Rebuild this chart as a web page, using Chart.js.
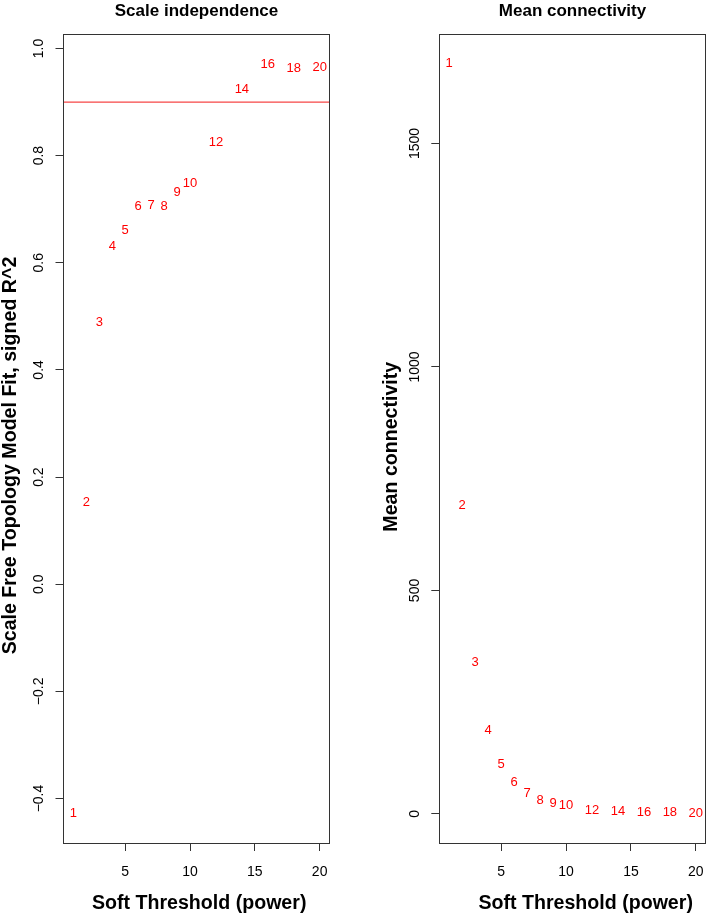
<!DOCTYPE html>
<html>
<head>
<meta charset="utf-8">
<title>Soft threshold</title>
<script src="https://cdn.jsdelivr.net/npm/chart.js"></script>
<style>
  html, body { margin: 0; padding: 0; background: #fff; }
  #wrap { position: relative; width: 708px; height: 915px; }
  canvas { position: absolute; top: 0; }
  #graficoFit { left: 0; }
  #graficoK { left: 354px; }
</style>
</head>
<body>
<div id="wrap">
  <canvas id="graficoFit" width="354" height="915"></canvas>
  <canvas id="graficoK" width="354" height="915"></canvas>
</div>
<script>
// datos
const powers = [1, 2, 3, 4, 5, 6, 7, 8, 9, 10, 12, 14, 16, 18, 20];
const fitR2 = [-0.427, 0.153, 0.488, 0.630, 0.661, 0.705, 0.707, 0.705, 0.731, 0.749, 0.824, 0.923, 0.971, 0.962, 0.965];
const meanK = [1679, 691, 338, 186, 111, 70, 46, 31, 24, 18, 9, 5, 4, 3, 2];
const cutR2 = 0.9;

const xTicks = [5, 10, 15, 20];
const fitTicks = [-0.4, -0.2, 0.0, 0.2, 0.4, 0.6, 0.8, 1.0];
const kTicks = [0, 500, 1000, 1500];

const FONT = '"Liberation Sans", Arial, Helvetica, sans-serif';
const X_MIN = 0.24, X_MAX = 20.76;

// caja, etiquetas de ticks y titulos al estilo de R
const rPlot = {
  id: "rPlot",
  afterDatasetsDraw(chart, args, opts) {
    const ctx = chart.ctx;
    const a = chart.chartArea;
    const al = v => Math.round(v - 0.5) + 0.5;
    ctx.save();

    ctx.strokeStyle = "#333";
    ctx.lineWidth = 1;
    ctx.strokeRect(al(a.left), al(a.top), al(a.right) - al(a.left), al(a.bottom) - al(a.top));

    // numeros de potencia en rojo
    const meta = chart.getDatasetMeta(0);
    ctx.fillStyle = "#ff0000";
    ctx.font = "13px " + FONT;
    ctx.textAlign = "center";
    ctx.textBaseline = "middle";
    meta.data.forEach((pt, i) => {
      ctx.fillText(String(powers[i]), pt.x, pt.y);
    });

    ctx.fillStyle = "#000";
    ctx.font = "14px " + FONT;
    ctx.textBaseline = "alphabetic";

    // ticks del eje x
    const xs = chart.scales.x;
    xs.ticks.forEach(t => {
      ctx.fillText(String(t.value), xs.getPixelForValue(t.value), a.bottom + 32.7);
    });

    // ticks del eje y, girados
    const ys = chart.scales.y;
    ys.ticks.forEach(t => {
      let txt = opts.decimals ? t.value.toFixed(opts.decimals) : String(t.value);
      txt = txt.replace("-", "\u2212");
      ctx.save();
      ctx.translate(a.left - 20.5, ys.getPixelForValue(t.value));
      ctx.rotate(-Math.PI / 2);
      ctx.fillText(txt, 0, 0);
      ctx.restore();
    });

    // titulos
    ctx.font = "bold 17px " + FONT;
    ctx.fillText(opts.title, (a.left + a.right) / 2, 15.7);

    ctx.font = "bold 19.6px " + FONT;
    ctx.fillText(opts.xTitle, opts.xTitleX, 909.3);

    ctx.save();
    ctx.translate(opts.yTitleBase, opts.yTitleY);
    ctx.rotate(-Math.PI / 2);
    ctx.fillText(opts.yTitle, 0, 0);
    ctx.restore();

    ctx.restore();
  }
};

function makeChart(id, values, yMin, yMax, yTicks, extra, setup) {
  const datasets = [{
    data: powers.map((p, i) => ({ x: p, y: values[i] })),
    pointRadius: 0,
    pointHoverRadius: 0
  }];
  if (extra) datasets.push(extra);

  const config = {
    type: "scatter",
    data: { datasets: datasets },
    options: {
      responsive: false,
      animation: false,
      events: [],
      layout: { padding: setup.padding },
      plugins: {
        legend: { display: false },
        tooltip: { enabled: false },
        rPlot: setup.plot
      },
      scales: {
        x: {
          type: "linear",
          min: X_MIN,
          max: X_MAX,
          afterBuildTicks: s => { s.ticks = xTicks.map(v => ({ value: v })); },
          afterFit: s => { s.height = 72; },
          grid: { drawOnChartArea: false, drawTicks: true, tickLength: 8, color: "#333" },
          border: { display: true, color: "#333" },
          ticks: { display: false }
        },
        y: {
          type: "linear",
          min: yMin,
          max: yMax,
          afterBuildTicks: s => { s.ticks = yTicks.map(v => ({ value: v })); },
          afterFit: s => { s.width = setup.yWidth; },
          grid: { drawOnChartArea: false, drawTicks: true, tickLength: 8, color: "#333" },
          border: { display: true, color: "#333" },
          ticks: { display: false }
        }
      }
    },
    plugins: [rPlot]
  };
  return new Chart(document.getElementById(id).getContext("2d"), config);
}

window.addEventListener("load", () => {
  makeChart("graficoFit", fitR2, -0.483, 1.027, fitTicks, {
    type: "line",
    data: [{ x: X_MIN, y: cutR2 }, { x: X_MAX, y: cutR2 }],
    borderColor: "rgba(245,50,50,0.9)",
    borderWidth: 1.3,
    pointRadius: 0,
    fill: false
  }, {
    padding: { top: 34, right: 24.5, bottom: 0, left: 0 },
    yWidth: 63.5,
    plot: {
      title: "Scale independence",
      xTitle: "Soft Threshold (power)",
      xTitleX: 199.2,
      yTitle: "Scale Free Topology Model Fit, signed R^2",
      yTitleBase: 15.5,
      yTitleY: 455.5,
      decimals: 1
    }
  });

  makeChart("graficoK", meanK, -65, 1745, kTicks, null, {
    padding: { top: 34, right: 2.3, bottom: 0, left: 0 },
    yWidth: 85.3,
    plot: {
      title: "Mean connectivity",
      xTitle: "Soft Threshold (power)",
      xTitleX: 231.7,
      yTitle: "Mean connectivity",
      yTitleBase: 42.7,
      yTitleY: 446.7,
      decimals: 0
    }
  });
});
</script>
</body>
</html>
